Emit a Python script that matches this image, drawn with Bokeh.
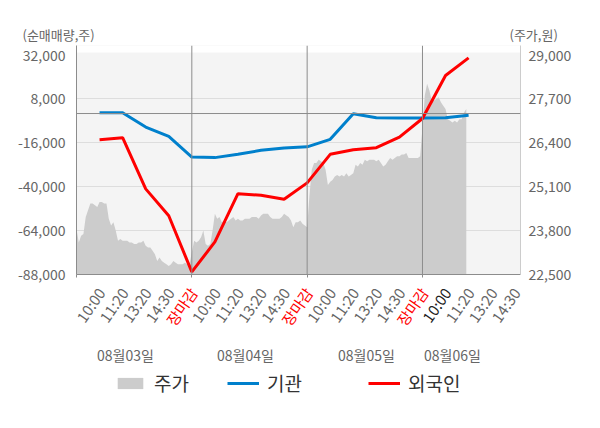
import math
from bokeh.plotting import figure
from bokeh.layouts import column
from bokeh.models import (Range1d, LinearAxis, FixedTicker, NumeralTickFormatter, Span,
                          BoxAnnotation, ColumnDataSource, Legend, LegendItem)
from bokeh.core.properties import value
from bokeh.embed import file_html
from bokeh.resources import INLINE

FONT = "Noto Sans CJK KR"

# ---------------- data ----------------
day_labels = ["08월03일", "08월04일", "08월05일", "08월06일"]
slot_labels = ["10:00", "11:20", "13:20", "14:30", "장마감"]
slots_per_day = 5
n_days = 4

# net buying snapshots (shares) at each slot, from day1 10:00 to day4 11:20
institution = [450, 450, -7400, -12500, -23800,
               -24100, -22300, -20100, -18800, -18200,
               -14100, -100, -2300, -2500, -2400,
               -2300, -1000]
foreign = [-14300, -13200, -41200, -55900, -86600,
           -70200, -43800, -44700, -46900, -37900,
           -22300, -19800, -18700, -12900, -2700,
           20800, 30400]

# intraday price (won), evenly sampled through each session
price_day1 = [23850, 23450, 23650, 23700, 24200, 24400, 24600, 24600, 24550, 24500,
              24650, 24650, 24600, 24600, 24150, 23950, 24050, 23800, 23500, 23550,
              23500, 23500, 23500, 23450, 23450, 23400, 23400, 23450, 23450, 23500,
              23350, 23300, 23300, 23200, 23100, 22900, 23000, 22900, 22850, 22800,
              22750, 22800, 22900, 22850, 22800, 22800, 22800, 22850, 22800, 22800]
price_day2 = [23150, 23500, 23450, 23500, 23600, 23800, 23400, 23350, 23400, 23800,
              24300, 24150, 24200, 24050, 24100, 24050, 24100, 24150, 24200, 24100,
              24150, 24100, 24100, 24150, 24150, 24150, 24200, 24200, 24200, 24150,
              24250, 24300, 24300, 24300, 24200, 24150, 24150, 24150, 24150, 24200,
              24300, 24250, 24200, 24100, 23900, 24050, 24050, 24100, 24000, 23950]
price_day3 = [23900, 24850, 25600, 25800, 25800, 25900, 25850, 25800, 25600, 25150,
              25250, 25300, 25400, 25450, 25400, 25450, 25400, 25500, 25400, 25450,
              25500, 25750, 25700, 25800, 25750, 25900, 25850, 25900, 25900, 25900,
              25850, 25900, 25800, 25700, 25750, 25850, 25950, 25900, 25950, 26000,
              26000, 26050, 26050, 26100, 25950, 25950, 25950, 25950, 25950, 26000]
price_day4 = [26850, 27800, 28150, 27950, 27650, 27650, 27700, 27750, 27600, 27500,
              27400, 27100, 27050, 27000, 27050, 27000, 27100, 27100, 27300, 27400]
samples_per_day = 50

left_ticks = [32000, 8000, -16000, -40000, -64000, -88000]
right_ticks = [29000, 27700, 26400, 25100, 23800, 22500]
left_title = "(순매매량,주)"
right_title = "(주가,원)"

# ---------------- layout constants (pixels) ----------------
W = 600
TOP_H = 45                 # strip holding the axis titles
FW, FH = 444, 229          # plot frame
FL = 76                    # frame left
MAIN_BOTTOM = 9
MAIN_H = FH + MAIN_BOTTOM
BOT_H = 143
B0 = TOP_H + MAIN_H        # screen y where the bottom strip starts

XR = (0, 19.25)
YL = (-88000, 37190)
YR = (22500, 29281)
upx = (XR[1] - XR[0]) / FW
vpx = (YL[1] - YL[0]) / FH


def sx(px):
    return XR[0] + (px - FL) * upx


def by(screen_y):
    return (B0 + BOT_H) - screen_y


def bare(fig):
    fig.axis.visible = False
    fig.grid.visible = False
    return fig


# ---------------- derived series ----------------
snap_x = list(range(1, len(institution) + 1))
price_x, price_y = [], []
for d, seq in enumerate([price_day1, price_day2, price_day3, price_day4]):
    for k, v in enumerate(seq):
        price_x.append(d * slots_per_day + k * slots_per_day / samples_per_day)
        price_y.append(v)

common = dict(output_backend="svg", toolbar_location=None, outline_line_color=None,
              border_fill_color="white", frame_align=False)

# ---------------- top strip: axis titles ----------------
top = bare(figure(width=W, height=TOP_H, x_range=Range1d(0, W), y_range=Range1d(0, TOP_H),
                  min_border=0, background_fill_color="white", **common))
top.text(x=[22], y=[TOP_H - 34], text=[left_title], text_align="left", text_baseline="middle",
         text_font=value(FONT), text_font_size="13px", text_color="#666666")
top.text(x=[509], y=[TOP_H - 34], text=[right_title], text_align="left", text_baseline="middle",
         text_font=value(FONT), text_font_size="13px", text_color="#666666")

# ---------------- main plot ----------------
p = figure(frame_width=FW, frame_height=FH, x_range=Range1d(*XR), y_range=Range1d(*YL),
           min_border_left=FL, min_border_right=W - FL - FW, min_border_top=0,
           min_border_bottom=MAIN_BOTTOM, background_fill_color="#f4f4f4", **common)
p.extra_y_ranges = {"price": Range1d(*YR)}

p.add_layout(BoxAnnotation(bottom=YL[1] - 7 * vpx, fill_color="white", fill_alpha=1,
                           line_color=None, level="underlay"))

p.xgrid.visible = False
p.ygrid.ticker = FixedTicker(ticks=[8000, -16000, -40000, -64000])
p.ygrid.grid_line_color = "#dddddd"

ya = p.yaxis[0]
ya.ticker = FixedTicker(ticks=left_ticks)
ya.formatter = NumeralTickFormatter(format="0,0")
ya.axis_line_color = "#8c8c8c"
ya.major_tick_line_color = None
ya.major_tick_out = 0
ya.major_tick_in = 0
ya.minor_tick_line_color = None
ya.major_label_standoff = 11
ya.major_label_text_font = FONT
ya.major_label_text_font_size = "14px"
ya.major_label_text_color = "#666666"

ra = LinearAxis(y_range_name="price", ticker=FixedTicker(ticks=right_ticks),
                formatter=NumeralTickFormatter(format="0,0"))
ra.axis_line_color = "#cccccc"
ra.major_tick_line_color = None
ra.major_tick_out = 0
ra.major_tick_in = 0
ra.minor_tick_line_color = None
ra.major_label_standoff = 8
ra.major_label_text_font = FONT
ra.major_label_text_font_size = "14px"
ra.major_label_text_color = "#666666"
p.add_layout(ra, "right")

xa = p.xaxis[0]
bounds = [d * slots_per_day for d in range(n_days)]
xa.ticker = FixedTicker(ticks=bounds)
xa.major_label_overrides = {b: "" for b in bounds}
xa.axis_line_color = "#8c8c8c"
xa.major_tick_line_color = "#8c8c8c"
xa.major_tick_in = 0
xa.major_tick_out = 3
xa.minor_tick_line_color = None
xa.major_label_standoff = 0
xa.major_label_text_font_size = "1px"

p.add_layout(Span(location=0, dimension="width", line_color="#8c8c8c", line_width=1))
for b in bounds[1:]:
    p.add_layout(Span(location=b, dimension="height", line_color="#8c8c8c", line_width=1))

area_style = dict(fill_color="#cccccc")
inst_style = dict(line_color="#0080cc", line_width=3)
for_style = dict(line_color="#ff0000", line_width=3)
p.varea(x=price_x, y1=YR[0], y2=price_y, y_range_name="price", **area_style)
p.line(snap_x, institution, **inst_style)
p.line(snap_x, foreign, **for_style)

# ---------------- bottom strip: tick labels, dates, legend ----------------
bot = bare(figure(width=W, height=BOT_H, x_range=Range1d(sx(0), sx(W)), y_range=Range1d(0, BOT_H),
                  min_border=0, background_fill_color="white", **common))

tick_x, tick_text, tick_color = [], [], []
for d in range(n_days):
    for s, lab in enumerate(slot_labels):
        xv = d * slots_per_day + s + 1
        if xv > XR[1]:
            continue
        tick_x.append(xv)
        tick_text.append(lab)
        if lab == "장마감":
            tick_color.append("#ff0000")
        elif d == n_days - 1 and s == 0:
            tick_color.append("#222222")
        else:
            tick_color.append("#666666")
tsrc = ColumnDataSource(dict(x=[t + 1.5 * upx for t in tick_x], y=[by(289)] * len(tick_x),
                             text=tick_text, color=tick_color))
bot.text(x="x", y="y", text="text", source=tsrc, angle=math.radians(55), text_align="right",
         text_baseline="middle", text_font=value(FONT), text_font_size="15px", text_color="color")

DATE_PX = [125, 245, 366, 452]
bot.text(x=[sx(v) for v in DATE_PX], y=[by(354)] * n_days, text=day_labels, text_align="center",
         text_baseline="middle", text_font=value(FONT), text_font_size="14px",
         text_color="#666666")

# legend swatches (styled like the plotted series; a single point draws nothing)
off = [sx(-100)]
lg_area = bot.varea(x=off, y1=[0], y2=[0], **area_style)
lg_inst = bot.line(off, [0], **inst_style)
lg_for = bot.line(off, [0], **for_style)
leg_style = dict(orientation="horizontal", glyph_width=32, glyph_height=14,
                 label_text_font=FONT, label_text_font_size="19px", label_text_color="#333333",
                 label_standoff=8, padding=0, margin=0, border_line_color=None,
                 background_fill_alpha=0)
leg1 = Legend(items=[LegendItem(label="주가", renderers=[lg_area]),
                     LegendItem(label="기관", renderers=[lg_inst])],
              location=(114, by(385) - 11), spacing=38, **leg_style)
leg2 = Legend(items=[LegendItem(label="외국인", renderers=[lg_for])],
              location=(368, by(385) - 11), **leg_style)
bot.add_layout(leg1)
bot.add_layout(leg2)

layout = column(top, p, bot, spacing=0)
open("out.html", "w").write(file_html(layout, INLINE))
